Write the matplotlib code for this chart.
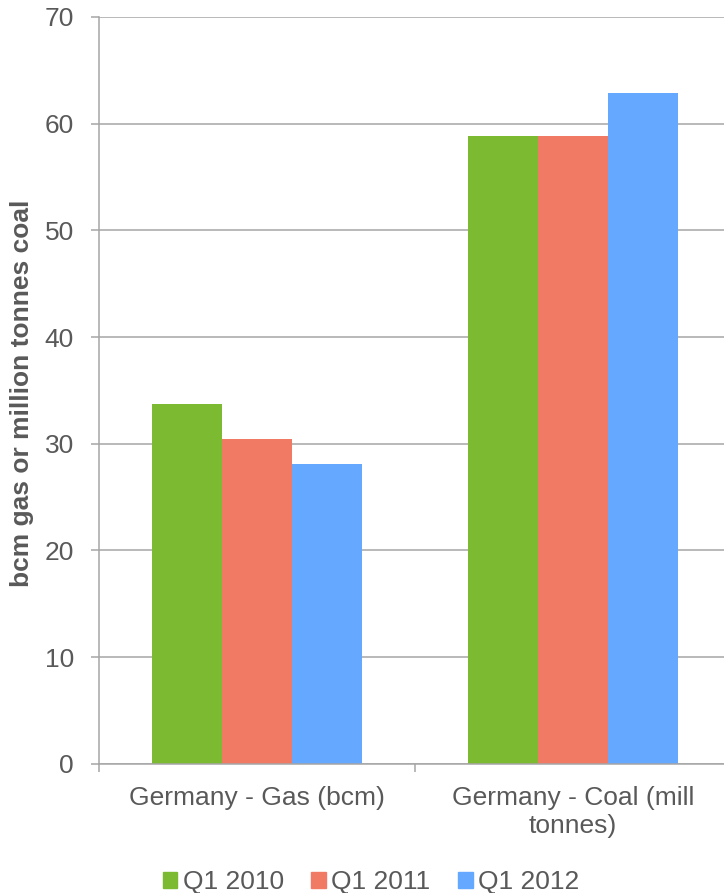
import matplotlib.pyplot as plt
from matplotlib.patches import Patch
import numpy as np

# Quarterly gas / coal figures for Germany
categories = ["Germany - Gas (bcm)", "Germany - Coal (mill\ntonnes)"]
series = ["Q1 2010", "Q1 2011", "Q1 2012"]
q1_2010 = [33.7, 58.85]
q1_2011 = [30.45, 58.85]
q1_2012 = [28.1, 62.85]
colors = ["#7CBB31", "#F07A64", "#64A8FF"]

plt.rcParams["font.family"] = ["Liberation Sans", "DejaVu Sans"]
text_color = "#595959"
grid_color = "#A6A6A6"

fig = plt.figure(figsize=(7.24, 8.93), dpi=100)
W, H = 724, 893
ax = fig.add_axes([99 / W, (H - 763.7) / H, (W - 99) / W, (763.7 - 17) / H])

x = np.arange(len(categories))
bar_w = 0.2215
for i, (vals, c) in enumerate(zip([q1_2010, q1_2011, q1_2012], colors)):
    ax.bar(x + (i - 1) * bar_w, vals, bar_w, color=c, zorder=3, label=series[i])

ax.set_yticks(range(0, 71, 10))
ax.yaxis.grid(True, color=grid_color, linewidth=1.1, zorder=0)

# category separators as major ticks, labels on minor ticks
ax.set_xticks([-0.5, 0.5])
ax.set_xticklabels([])
ax.set_xticks(x, minor=True)
ax.set_xticklabels(categories, minor=True, fontsize=19, color=text_color)
ax.tick_params(axis="x", which="minor", length=0, pad=16)
ax.tick_params(axis="x", which="major", length=6, width=1.1, color=grid_color)
ax.tick_params(axis="y", length=6, width=1.1, color=grid_color, pad=12,
               labelsize=19, labelcolor=text_color)

# one category = 316 px, right side runs off the canvas
ax.set_ylim(0, 70)
ax.set_xlim(-0.5, -0.5 + (W - 99) / 316)

for side in ["top", "right"]:
    ax.spines[side].set_visible(False)
for side in ["left", "bottom"]:
    ax.spines[side].set_color(grid_color)
    ax.spines[side].set_linewidth(1.1)
    ax.spines[side].set_zorder(4)

fig.text(22 / W, 1 - 393 / H, "bcm gas or million tonnes coal", rotation=90,
         ha="center", va="center", fontsize=19, fontweight="bold", color=text_color)

handles = [Patch(color=c) for c in colors]
fig.legend(handles, series, loc="center", bbox_to_anchor=(371 / W, 1 - 882 / H),
           ncol=3, frameon=False, fontsize=19, handlelength=0.55, handleheight=0.55,
           handletextpad=0.2, columnspacing=1.05, labelcolor=text_color)

fig.savefig("out.png", dpi=100)
